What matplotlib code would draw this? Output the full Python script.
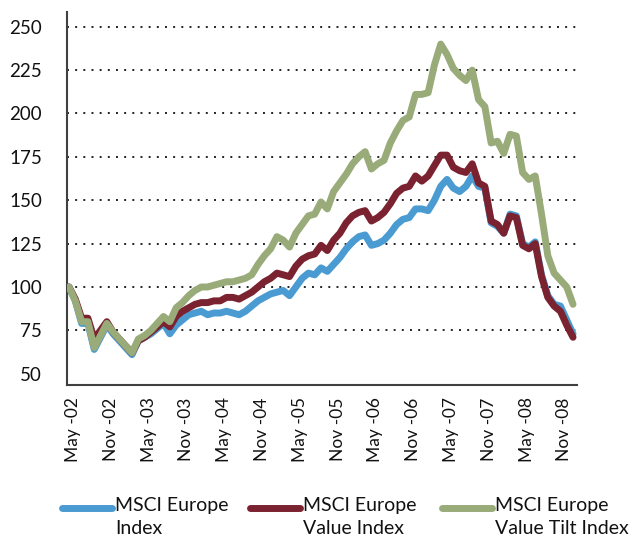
import matplotlib
matplotlib.use("Agg")
import matplotlib.pyplot as plt
from matplotlib.lines import Line2D
import matplotlib.transforms as mtransforms
import numpy as np

plt.rcParams['font.family'] = ['Lato', 'DejaVu Sans']

# monthly data May-02 .. Jan-09
msci_europe = [100, 92, 79, 79, 64, 71, 78, 73, 69, 65, 61, 69, 71, 73, 76, 79, 73, 78, 81, 84,
               85, 86, 84, 85, 85, 86, 85, 84, 86, 89, 92, 94, 96, 97, 98, 95, 100, 105, 108, 107,
               111, 109, 113, 117, 122, 126, 129, 130, 124, 125, 127, 131, 136, 139, 140, 145, 145, 144, 150, 158,
               162, 157, 155, 158, 164, 158, 157, 137, 135, 131, 142, 141, 125, 123, 126, 107, 95, 90, 89,
               81, 73]
msci_value = [100, 93, 82, 82, 70, 75, 80, 74, 70, 66, 62, 69, 71, 74, 77, 80, 77, 83, 86, 88,
              90, 91, 91, 92, 92, 94, 94, 93, 95, 97, 100, 103, 105, 108, 107, 106, 112, 116, 118, 119,
              124, 121, 127, 131, 137, 141, 143, 144, 138, 140, 143, 148, 154, 157, 158, 164, 161, 164, 170, 176,
              176, 169, 167, 166, 171, 160, 158, 138, 136, 131, 141, 140, 124, 122, 125, 106, 94, 89, 86,
              78, 71]
msci_tilt = [100, 92, 80, 80, 65, 72, 79, 74, 70, 66, 62, 70, 72, 75, 79, 83, 80, 88, 91, 95,
             98, 100, 100, 101, 102, 103, 103, 104, 105, 107, 113, 118, 122, 129, 127, 123, 131, 136, 141, 142,
             149, 145, 155, 160, 165, 171, 175, 178, 168, 171, 173, 183, 190, 196, 198, 211, 211, 212, 228, 240,
             234, 226, 222, 219, 225, 208, 204, 183, 184, 177, 188, 187, 166, 162, 164, 142, 118, 108, 104,
             100, 90]

tick_labels = ["May -02", "Nov -02", "May -03", "Nov -03", "May -04", "Nov -04", "May -05",
               "Nov -05", "May -06", "Nov -06", "May -07", "Nov -07", "May -08", "Nov -08"]
series_names = ["MSCI Europe\nIndex", "MSCI Europe\nValue Index", "MSCI Europe\nValue Tilt Index"]
colors = ["#4a9bd1", "#7b2230", "#9aab7a"]

fig = plt.figure(figsize=(6.4, 5.46), dpi=100)
ax = fig.add_axes([67/640, 1-385/546, 510/640, 373/546])

lw = 5.0
for vals, c, z in zip([msci_europe, msci_value, msci_tilt], colors, [3, 4, 5]):
    ax.plot(np.arange(len(vals)), vals, color=c, lw=lw, solid_joinstyle='round',
            solid_capstyle='round', zorder=z)

ax.set_xlim(-0.32, 80.63)
ax.set_ylim(43.5, 258.5)
ax.set_yticks([50, 75, 100, 125, 150, 175, 200, 225, 250])
for yv in [75, 100, 125, 150, 175, 200, 225, 250]:
    ax.axhline(yv, color='#222222', lw=1.4, ls=(0, (1, 3.2)), zorder=1)
ax.set_xticks(np.arange(0, 79, 6))
ax.set_xticklabels(tick_labels, rotation=90, fontsize=12.5, color='#111111')
ax.tick_params(axis='x', length=0, pad=9)
ax.tick_params(axis='y', length=0, pad=18, labelsize=13.5, labelcolor='#111111')
off = mtransforms.ScaledTranslation(4/100, 0, fig.dpi_scale_trans)
for lab in ax.get_xticklabels():
    lab.set_transform(lab.get_transform() + off)
for s in ['top', 'right']:
    ax.spines[s].set_visible(False)
for s in ['left', 'bottom']:
    ax.spines[s].set_color('#404040')
    ax.spines[s].set_linewidth(1.5)

# legend
leg_x = [62, 250, 442]
for lx, c, name in zip(leg_x, colors, series_names):
    y = 1 - 508/546
    fig.add_artist(Line2D([lx/640, (lx+50)/640], [y, y], color=c, lw=5, solid_capstyle='round',
                          transform=fig.transFigure))
    fig.text((lx+53)/640, 1-497/546, name, fontsize=14, va='top', ha='left',
             color='#111111', linespacing=1.4)

fig.savefig("out.png", dpi=100)
